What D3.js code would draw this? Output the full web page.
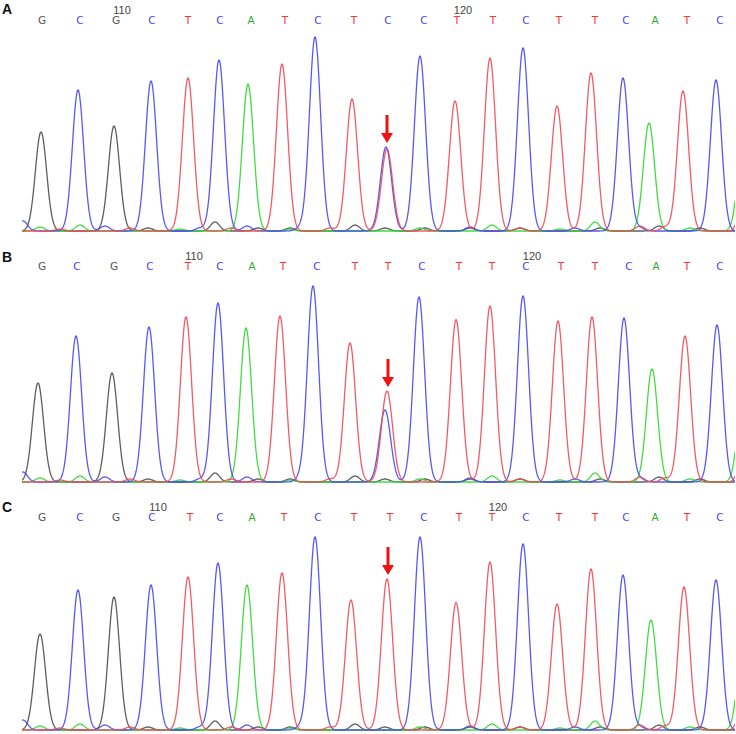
<!DOCTYPE html>
<html>
<head>
<meta charset="utf-8">
<script src="https://cdn.jsdelivr.net/npm/d3@7"></script>
<style>
  body { margin: 0; background: #fff; }
  svg { display: block; }
</style>
</head>
<body>
<div id="chart"></div>
<script>
// Sanger chromatograms, three samples (A, B, C) over the same 21-base window

const panelNames = ["A", "B", "C"];

// base calls per panel
const callsA = ["G","C","G","C","T","C","A","T","C","T","C","C","T","T","C","T","T","C","A","T","C"];
const callsB = ["G","C","G","C","T","C","A","T","C","T","T","C","T","T","C","T","T","C","A","T","C"];
const callsC = ["G","C","G","C","T","C","A","T","C","T","T","C","T","T","C","T","T","C","A","T","C"];

// where each call label sits (scan index)
const callPosA = [20,58,94,130,166,198,229,263,296,332,366,402,435,471,504,537,573,604,633,665,698];
const callPosB = [20,55,92,128,166,198,230,261,295,333,366,400,437,470,504,539,573,607,634,665,698];
const callPosC = [20,58,94,130,168,198,230,262,296,332,368,402,437,470,504,537,573,604,633,665,698];

// primary peak for each call: scan position and signal height
const peakPosA = [19,56,92,129,166,197,226,260,293,330,364,398,433,468,501,535,569,601,627,661,694];
const peakPosB = [16,54,90,127,164,196,224,258,291,328,365,397,434,468,501,536,570,602,630,663,695];
const peakPosC = [18,56,92,129,166,196,225,260,293,329,365,398,434,468,501,535,569,601,629,662,694];

const peakHA = [99,141,105,150,153,171,147,167,194,132,84,175,129,173,183,125,158,153,108,140,151];
const peakHB = [99,146,109,155,165,179,154,166,196,139,91,185,161,176,186,161,165,164,113,146,157];
const peakHC = [96,140,133,145,153,167,145,157,193,130,151,193,126,168,186,126,161,155,110,143,150];

// the variant site (index in the call list) and its second peak, if any
const variantIndex = 10;
const secondA = { base: "T", pos: 365, h: 82 };
const secondB = { base: "C", pos: 363, h: 72 };
const secondC = null;

// "110" and "120" position markers (index of the call they sit over)
const markerLabels = ["110", "120"];
const markerIdxA = [2, 12];
const markerIdxB = [4, 14];
const markerIdxC = [3, 13];

// small background bumps per channel: [scan, height]
const noiseG = [[126,3],[193,9],[236,3],[268,3],[333,6],[363,3],[403,3],[448,3],[498,3],[578,3],[637,5],[678,3]];
const noiseA = [[18,4],[58,6],[158,2],[268,2],[398,3],[470,6],[538,2],[573,9],[668,3],[722,110]];
const noiseC = [[1,10],[83,5],[178,3],[225,5],[278,3],[448,4],[553,3],[618,3]];
const noiseT = [[38,2],[108,3],[209,3],[308,3],[438,2],[498,3],[618,5],[643,4],[726,90]];

const colors = { G: "#4d4d4d", A: "#2fd82f", C: "#4747f5", T: "#ef4a55" };
const textColors = { G: "#555555", A: "#2faa2f", C: "#4646ee", T: "#f03a3a" };
const drawOrder = ["G", "A", "C", "T"];

const panels = [
  { calls: callsA, callPos: callPosA, pos: peakPosA, h: peakHA, second: secondA, markers: markerIdxA },
  { calls: callsB, callPos: callPosB, pos: peakPosB, h: peakHB, second: secondB, markers: markerIdxB },
  { calls: callsC, callPos: callPosC, pos: peakPosC, h: peakHC, second: secondC, markers: markerIdxC }
];

// vertical layout of each panel
const layout = [
  { label: 9,   calls: 20,  base: 231 },
  { label: 257, calls: 266, base: 482 },
  { label: 507, calls: 517, base: 730 }
];

const width = 736, height = 734;
const sigma = 5.6, noiseSigma = 4.5;

const x = d3.scaleLinear().domain([0, 713]).range([22, 735]);

const svg = d3.select("#chart").append("svg")
    .attr("width", width)
    .attr("height", height);

svg.append("defs").append("clipPath").attr("id", "plotclip")
  .append("rect").attr("x", x(0)).attr("y", 0).attr("width", x(713) - x(0)).attr("height", height);

const noise = { G: noiseG, A: noiseA, C: noiseC, T: noiseT };
const scans = d3.range(0, 713.5, 0.5);

panels.forEach((p, pi) => {
  const L = layout[pi];
  const y = d3.scaleLinear().domain([0, 200]).range([L.base, L.base - 200]);
  const g = svg.append("g");

  // collect gaussian components per channel
  const comps = { G: [], A: [], C: [], T: [] };
  p.calls.forEach((b, i) => comps[b].push({ pos: p.pos[i], h: p.h[i], s: sigma }));
  if (p.second) comps[p.second.base].push({ pos: p.second.pos, h: p.second.h, s: sigma });
  drawOrder.forEach(b => noise[b].forEach(([pos, h]) =>
    comps[b].push({ pos: pos, h: h, s: h > 50 ? sigma : noiseSigma })));

  const line = d3.line().x(d => x(d[0])).y(d => y(d[1]));

  g.append("g").attr("clip-path", "url(#plotclip)")
    .selectAll("path")
    .data(drawOrder)
    .join("path")
      .attr("fill", "none")
      .attr("stroke", b => colors[b])
      .attr("stroke-width", 1.3)
      .attr("stroke-opacity", 0.9)
      .attr("d", b => line(scans.map(s => [s, d3.sum(comps[b],
          c => c.h * Math.exp(-((s - c.pos) ** 2) / (2 * c.s * c.s)))])));

  // base calls
  g.append("g")
    .selectAll("text")
    .data(p.calls)
    .join("text")
      .attr("x", (d, i) => x(p.callPos[i]))
      .attr("y", L.calls)
      .attr("dy", "0.35em")
      .attr("text-anchor", "middle")
      .attr("font-family", "DejaVu Sans, sans-serif")
      .attr("font-size", 10.5)
      .attr("fill", d => textColors[d])
      .text(d => d);

  // position markers
  g.append("g")
    .selectAll("text")
    .data(markerLabels)
    .join("text")
      .attr("x", (d, i) => x(p.callPos[p.markers[i]]) + 6)
      .attr("y", L.calls - 10)
      .attr("dy", "0.35em")
      .attr("text-anchor", "middle")
      .attr("font-family", "Liberation Sans, Arial, sans-serif")
      .attr("font-size", 11)
      .attr("fill", "#444")
      .text(d => d);

  // panel letter
  g.append("text")
    .attr("x", 2)
    .attr("y", L.label)
    .attr("dy", "0.36em")
    .attr("font-family", "Liberation Sans, Arial, sans-serif")
    .attr("font-weight", "bold")
    .attr("font-size", 14)
    .attr("fill", "#111")
    .text(panelNames[pi]);

  // red arrow over the variant peak
  const vi = variantIndex;
  const topH = Math.max(p.h[vi], p.second ? p.second.h : 0);
  const ax = x(p.pos[vi]) + 1;
  const tip = y(topH) - 4;
  g.append("line")
    .attr("x1", ax).attr("x2", ax)
    .attr("y1", tip - 28).attr("y2", tip - 7)
    .attr("stroke", "#ee1111")
    .attr("stroke-width", 3);
  g.append("path")
    .attr("d", `M${ax - 6},${tip - 10} L${ax + 6},${tip - 10} L${ax},${tip} Z`)
    .attr("fill", "#ee1111");
});
</script>
</body>
</html>
